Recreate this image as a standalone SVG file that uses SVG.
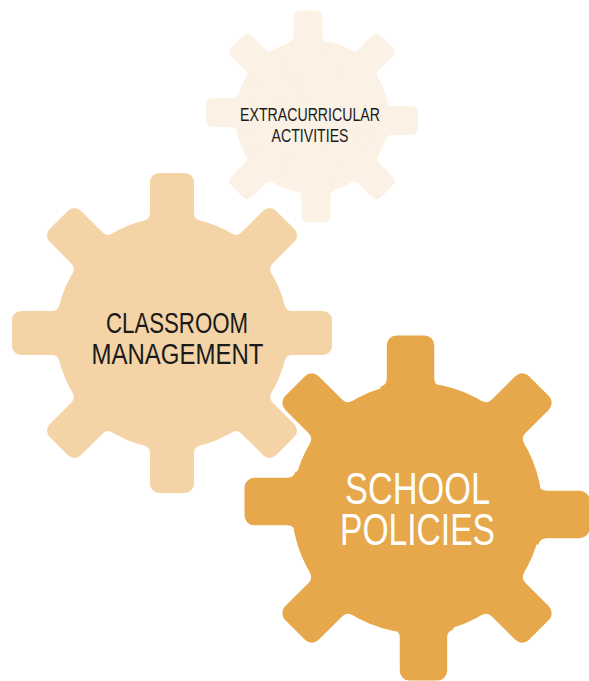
<svg xmlns="http://www.w3.org/2000/svg" xmlns:xlink="http://www.w3.org/1999/xlink" width="589" height="681" viewBox="0 0 589 681">
  <style>
    .lbl { font-family: "Liberation Sans", Arial, sans-serif; text-anchor: middle; }
    .dark { fill: #1a1a1a; }
    .light { fill: #ffffff; }
    .g1 { fill: #fbf1e4; }
    .g2 { fill: #f4d4a7; }
    .g3 { fill: #e6a84a; }
  </style>
  <defs>
    <path id="tooth" d="M 28.06 -112.56 A 8 8 0 0 1 22 -120.32 L 22 -151 A 9 9 0 0 0 13 -160 L -13 -160 A 9 9 0 0 0 -22 -151 L -22 -120.32 A 8 8 0 0 1 -28.06 -112.56 L 0 0 Z"/>
    <g id="gearA">
      <circle cx="0" cy="0" r="116"/>
      <use xlink:href="#tooth"/>
      <use xlink:href="#tooth" transform="rotate(45)"/>
      <use xlink:href="#tooth" transform="rotate(90)"/>
      <use xlink:href="#tooth" transform="rotate(135)"/>
      <use xlink:href="#tooth" transform="rotate(180)"/>
      <use xlink:href="#tooth" transform="rotate(225)"/>
      <use xlink:href="#tooth" transform="rotate(270)"/>
      <use xlink:href="#tooth" transform="rotate(315)"/>
    </g>
    <g id="gearB">
      <circle cx="0" cy="0" r="116"/>
      <use xlink:href="#tooth" transform="translate(-6,0)"/>
      <use xlink:href="#tooth" transform="rotate(45)"/>
      <use xlink:href="#tooth" transform="rotate(90) translate(6,0)"/>
      <use xlink:href="#tooth" transform="rotate(135)"/>
      <use xlink:href="#tooth" transform="rotate(180) translate(-6,0)"/>
      <use xlink:href="#tooth" transform="rotate(225)"/>
      <use xlink:href="#tooth" transform="rotate(270) translate(6,0)"/>
      <use xlink:href="#tooth" transform="rotate(315)"/>
    </g>
  </defs>

  <g id="extracurricular">
    <use xlink:href="#gearB" class="g1" transform="translate(312,116.5) scale(0.662)"/>
    <text class="lbl dark" font-size="18" x="310" y="120.5" textLength="140" lengthAdjust="spacingAndGlyphs">EXTRACURRICULAR</text>
    <text class="lbl dark" font-size="18" x="310" y="142" textLength="77" lengthAdjust="spacingAndGlyphs">ACTIVITIES</text>
  </g>

  <g id="classroom">
    <use xlink:href="#gearA" class="g2" transform="translate(172,333)"/>
    <text class="lbl dark" font-size="29" x="177" y="332.5" textLength="142" lengthAdjust="spacingAndGlyphs">CLASSROOM</text>
    <text class="lbl dark" font-size="29" x="177.5" y="364" textLength="172" lengthAdjust="spacingAndGlyphs">MANAGEMENT</text>
  </g>

  <g id="school">
    <use xlink:href="#gearB" class="g3" transform="translate(417,508) scale(1.078)"/>
    <text class="lbl light" font-size="44" x="417.5" y="504" textLength="145" lengthAdjust="spacingAndGlyphs">SCHOOL</text>
    <text class="lbl light" font-size="44" x="417.5" y="545" textLength="155" lengthAdjust="spacingAndGlyphs">POLICIES</text>
  </g>

  <g id="connectors"></g>
</svg>
